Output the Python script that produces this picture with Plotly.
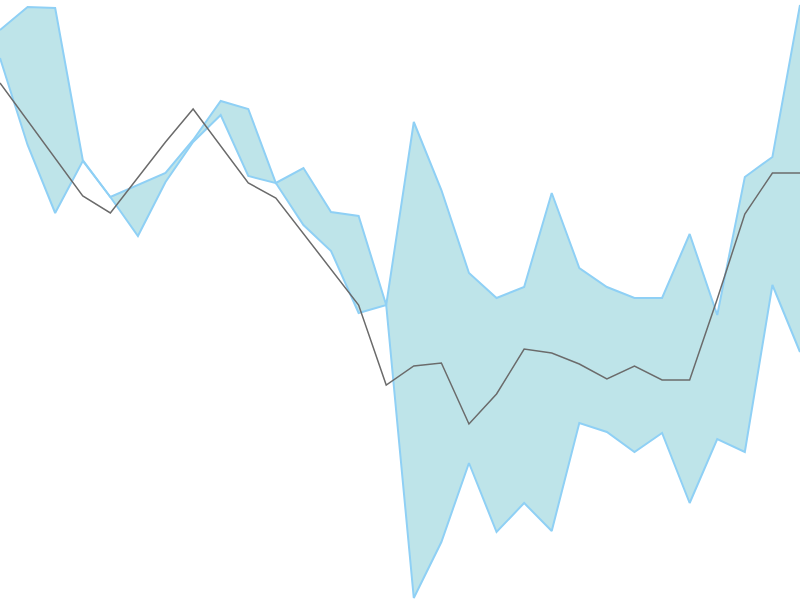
import plotly.graph_objects as go

# 30 evenly spaced steps
steps = list(range(30))

band_a = [570, 593, 592, 440, 403, 415, 427, 460, 499, 491,
          417, 432, 388, 384, 295, 478, 410, 327, 302, 313,
          407, 332, 313, 302, 302, 366, 285, 423, 443, 595]

band_b = [542, 455, 387, 439, 403, 364, 418, 458, 485, 424,
          417, 375, 349, 287, 295, 2, 58, 137, 68, 97,
          69, 177, 168, 148, 167, 97, 161, 148, 315, 248]

mid_line = [517, 479, 441, 404, 387, 422, 458, 491, 454, 417,
            402, 366, 331, 295, 215, 234, 237, 176, 206, 251,
            247, 236, 221, 234, 220, 220, 301, 386, 427, 427]

band_line_color = '#8fd0f5'
band_fill_color = '#bee4e9'
mid_color = '#6b6b6b'

fig = go.Figure()
fig.add_trace(go.Scatter(
    x=steps, y=band_a,
    mode='lines',
    line=dict(color=band_line_color, width=2),
    hoverinfo='skip',
))
fig.add_trace(go.Scatter(
    x=steps, y=band_b,
    mode='lines',
    fill='tonexty',
    fillcolor=band_fill_color,
    line=dict(color=band_line_color, width=2),
    hoverinfo='skip',
))
fig.add_trace(go.Scatter(
    x=steps, y=mid_line,
    mode='lines',
    line=dict(color=mid_color, width=1.5),
))

fig.update_layout(
    width=800, height=600,
    showlegend=False,
    paper_bgcolor='white',
    plot_bgcolor='white',
    margin=dict(l=0, r=0, t=0, b=0),
    xaxis=dict(visible=False, range=[0, 29]),
    yaxis=dict(visible=False, range=[0, 600]),
)

# full bleed: drop the default page margin so the chart sits at 0,0
fig.write_html("out.html",
               config={'displayModeBar': False},
               post_script="document.body.style.margin='0';"
                           "document.body.style.overflow='hidden';")
